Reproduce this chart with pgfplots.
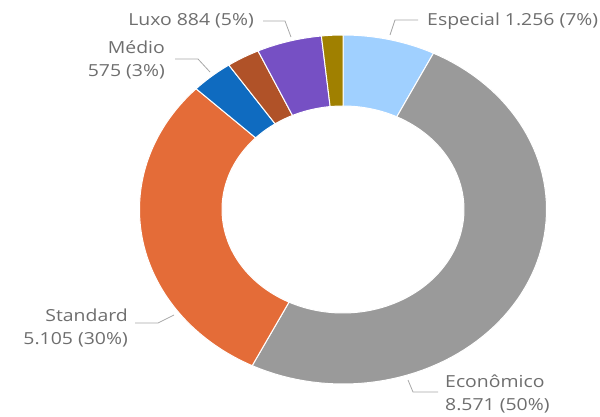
\documentclass[border=0pt]{standalone}
\usepackage{pgfplots}
\pgfplotsset{compat=1.18}
\usepackage{pgfplotstable}
\usepackage{fontspec}
\setmainfont{Open Sans}[FakeStretch=1.17]

% slice colours, in table order
\definecolor{slice0}{HTML}{A0D0FF}
\definecolor{slice1}{HTML}{9A9A9A}
\definecolor{slice2}{HTML}{E46C38}
\definecolor{slice3}{HTML}{0F6BC0}
\definecolor{slice4}{HTML}{B05228}
\definecolor{slice5}{HTML}{7650C4}
\definecolor{slice6}{HTML}{A08000}
\definecolor{labelgray}{HTML}{6E6E6E}
\definecolor{leadergray}{HTML}{A8A8A8}

% sales per category, clockwise from 12 o'clock
\pgfplotstableread{
name       value
Especial   1256
Economico  8571
Standard   5105
Medio      575
Outro      450
Luxo       884
Premium    290
}\slices

% ring geometry: centre and outer/inner radii (elliptical ring)
\def\cx{343}\def\cy{206.5}
\def\Rx{203.5}\def\Ry{174.5}
\def\rx{121}\def\ry{103.5}

\begin{document}%
\begin{tikzpicture}
% total (in thousands, to stay inside pgfmath's range)
\xdef\total{0}
\foreach \i in {0,...,6}{%
  \pgfplotstablegetelem{\i}{value}\of\slices
  \pgfmathsetmacro\tmp{\total+\pgfplotsretval/1000}%
  \xdef\total{\tmp}%
}
% start and end angle of every slice (degrees, clockwise from the top)
\xdef\cum{0}
\foreach \i in {0,...,6}{%
  \pgfplotstablegetelem{\i}{value}\of\slices
  \pgfmathsetmacro\s{\cum/\total*360}%
  \pgfmathsetmacro\c{\cum+\pgfplotsretval/1000}%
  \pgfmathsetmacro\e{\c/\total*360}%
  \expandafter\xdef\csname s\i\endcsname{\s}%
  \expandafter\xdef\csname e\i\endcsname{\e}%
  \xdef\cum{\c}%
}
\begin{axis}[
  hide axis, scale only axis,
  width=600pt, height=416pt,
  xmin=0, xmax=600, ymin=0, ymax=416,
  clip=false,
]
% ring segments: t in [0,1] outer arc, [1,2] radial edge, [2,3] inner arc back
\pgfplotsinvokeforeach{0,...,6}{
  \addplot[fill=slice#1, draw=white, line width=1pt, domain=0:3, samples=241, variable=\t]
  ({\cx + (\t<1 ? \Rx : (\t<2 ? \Rx-(\t-1)*(\Rx-\rx) : \rx))
        *sin(\t<1 ? \csname s#1\endcsname + \t*(\csname e#1\endcsname-\csname s#1\endcsname)
             : (\t<2 ? \csname e#1\endcsname
                : \csname e#1\endcsname - (\t-2)*(\csname e#1\endcsname-\csname s#1\endcsname)))},
   {\cy + (\t<1 ? \Ry : (\t<2 ? \Ry-(\t-1)*(\Ry-\ry) : \ry))
        *cos(\t<1 ? \csname s#1\endcsname + \t*(\csname e#1\endcsname-\csname s#1\endcsname)
             : (\t<2 ? \csname e#1\endcsname
                : \csname e#1\endcsname - (\t-2)*(\csname e#1\endcsname-\csname s#1\endcsname)))}) -- cycle;
}
% leader lines
\addplot[leadergray, line width=0.8pt] coordinates {(418,396) (395,396) (390,381)};
\addplot[leadergray, line width=0.8pt] coordinates {(263,395) (285,395) (291,379)};
\addplot[leadergray, line width=0.8pt] coordinates {(175,357) (198,357) (210,344)};
\addplot[leadergray, line width=0.8pt] coordinates {(135,93) (158,93) (174,101)};
\addplot[leadergray, line width=0.8pt] coordinates {(438,24) (413,24) (408,36)};
% labels
\begin{scope}[every node/.style={text=labelgray, font=\fontsize{16.6}{23.5}\selectfont, inner sep=0pt}]
\node[anchor=west] at (axis cs:427,395) {Especial 1.256 (7\%)};
\node[anchor=east] at (axis cs:254,395) {Luxo 884 (5\%)};
\node[anchor=east, align=right] at (axis cs:165,356) {Médio\\575 (3\%)};
\node[anchor=east, align=right] at (axis cs:128,88) {Standard\\5.105 (30\%)};
\node[anchor=west, align=left, font=\fontsize{16.6}{23}\selectfont] at (axis cs:445,22.5) {Econômico\\8.571 (50\%)};
\end{scope}
\end{axis}
\pgfresetboundingbox
\path (current axis.south west) rectangle (current axis.north east);
\end{tikzpicture}%
\end{document}
